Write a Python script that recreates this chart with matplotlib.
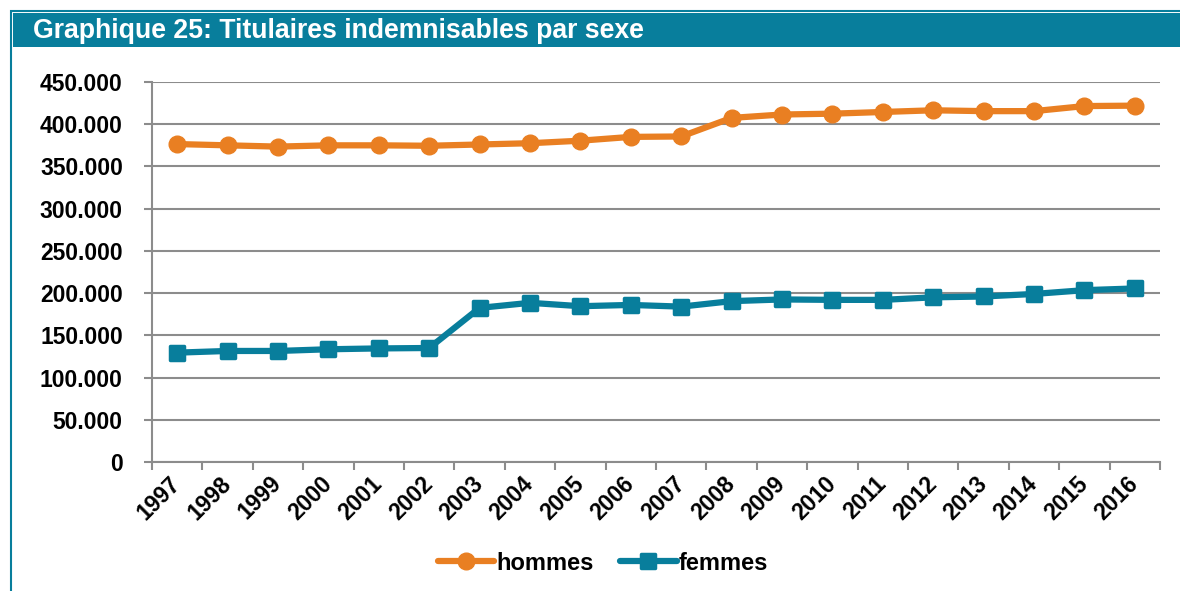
import matplotlib
matplotlib.use("Agg")
import matplotlib.pyplot as plt
from matplotlib.markers import MarkerStyle
from matplotlib.patches import Rectangle
from matplotlib.ticker import FuncFormatter, FixedLocator, NullFormatter

years = [str(y) for y in range(1997, 2017)]
hommes = [376.5, 375.0, 373.5, 375.0, 375.0, 374.5, 376.0, 377.5, 380.5, 385.0,
          385.5, 407.5, 411.5, 412.5, 414.5, 416.5, 415.5, 415.5, 421.5, 422.0]
femmes = [129.5, 131.5, 131.5, 133.5, 134.5, 135.0, 182.5, 188.5, 184.5, 186.0,
          184.0, 190.5, 192.5, 192.0, 192.0, 195.0, 196.0, 199.0, 203.5, 205.5]
title = "Graphique 25: Titulaires indemnisables par sexe"
series_names = ["hommes", "femmes"]

ORANGE = "#E97F22"
TEAL = "#087E9C"
GRID = "#8C8C8C"

plt.rcParams['font.family'] = ['Liberation Sans', 'DejaVu Sans']
plt.rcParams['font.weight'] = 'bold'

W, H = 1180, 591
fig = plt.figure(figsize=(W / 100, H / 100), dpi=100)

# frame
fig.add_artist(Rectangle((11 / W, -0.1), 1.2, (H - 11) / H + 0.1, transform=fig.transFigure,
                         fill=False, edgecolor=TEAL, linewidth=1.5))
fig.add_artist(Rectangle((13 / W, 1 - 47 / H), 1.0, 34 / H, transform=fig.transFigure,
                         facecolor=TEAL, edgecolor='none'))
fig.text(33 / W, 1 - 31 / H, title, color='white', fontsize=19.2, fontweight='bold',
         va='center', ha='left')

ax = fig.add_axes([152 / W, 1 - 462 / H, (1160 - 152) / W, (462 - 82) / H])
x = list(range(len(years)))
ax.plot(x, [v * 1000 for v in hommes], color=ORANGE, linewidth=4.5,
        marker='o', markersize=12, label=series_names[0], solid_joinstyle='round',
        solid_capstyle='round', zorder=3)
ax.plot(x, [v * 1000 for v in femmes], color=TEAL, linewidth=4.5,
        marker=MarkerStyle('s', joinstyle='round'), markersize=10, markeredgewidth=2.5,
        label=series_names[1], solid_joinstyle='round', solid_capstyle='round', zorder=3)

ax.set_xlim(-0.5, len(years) - 0.5)
ax.set_ylim(0, 450000)
ax.set_yticks(range(0, 450001, 50000))
ax.yaxis.set_major_formatter(FuncFormatter(
    lambda v, p: "0" if v == 0 else f"{int(v):,}".replace(",", ".")))
ax.grid(axis='y', color=GRID, linewidth=1.5)
ax.set_axisbelow(True)
for s in ['top', 'right']:
    ax.spines[s].set_visible(False)
for s in ['left', 'bottom']:
    ax.spines[s].set_color(GRID)
    ax.spines[s].set_linewidth(1.5)

ax.xaxis.set_major_locator(FixedLocator([i - 0.5 for i in range(len(years) + 1)]))
ax.xaxis.set_major_formatter(NullFormatter())
ax.xaxis.set_minor_locator(FixedLocator(x))
ax.set_xticks(x, years, minor=True)
ax.tick_params(axis='x', which='major', length=6, width=1.5, color=GRID, direction='out')
ax.tick_params(axis='x', which='minor', length=0, pad=13)
ax.tick_params(axis='y', length=6, width=1.5, color=GRID, pad=15, labelsize=16.5)
for lab in ax.get_xticklabels(minor=True):
    lab.set_rotation(45)
    lab.set_ha('right')
    lab.set_va('center')
    lab.set_rotation_mode('anchor')
    lab.set_fontsize(16.5)
    lab.set_fontweight('bold')
for lab in ax.get_yticklabels():
    lab.set_fontweight('bold')

fig.legend(loc='center', bbox_to_anchor=(603 / W, 1 - 563 / H), ncol=2, frameon=False,
           handlelength=2.4, handletextpad=0.1, columnspacing=1.1,
           prop={'weight': 'bold', 'size': 17})

fig.savefig("out.png", dpi=100)
